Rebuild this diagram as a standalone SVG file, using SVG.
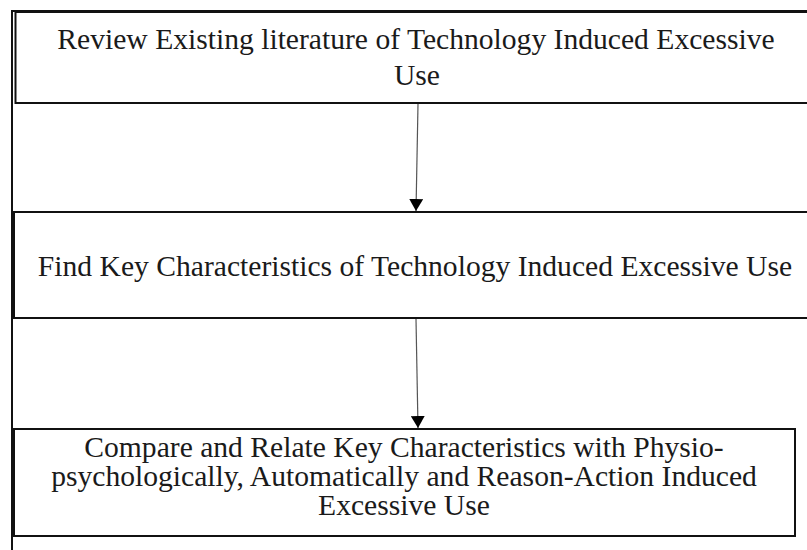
<svg xmlns="http://www.w3.org/2000/svg" width="807" height="550" viewBox="0 0 807 550">
  <style>
    .box { fill: #ffffff; stroke: #111111; stroke-width: 2; }
    .frame { fill: none; stroke: #111111; stroke-width: 2; }
    .label { font-family: "Liberation Serif", "Times New Roman", serif; font-size: 29.6px; fill: #1a1a1a; text-anchor: middle; }
    .link { stroke: #555555; stroke-width: 1.2; fill: none; }
  </style>
  <defs>
    <marker id="arrowhead" viewBox="0 0 12 14" refX="12" refY="7" markerWidth="12" markerHeight="14" markerUnits="userSpaceOnUse" orient="auto">
      <path d="M0,0 L12,7 L0,14 Z" fill="#000000"/>
    </marker>
  </defs>
  <rect width="807" height="550" fill="#ffffff"/>

  <!-- outer frame: left and top edges -->
  <path class="frame" d="M12,550 V11 H807"/>

  <g id="step-review">
    <rect class="box" x="15.5" y="12" width="810" height="91"/>
    <text class="label" x="416" y="49">Review Existing literature of Technology Induced Excessive</text>
    <text class="label" x="417" y="85">Use</text>
  </g>

  <g id="step-characteristics">
    <rect class="box" x="14" y="212" width="810" height="106"/>
    <text class="label" x="415" y="276">Find Key Characteristics of Technology Induced Excessive Use</text>
  </g>

  <g id="step-compare">
    <rect class="box" x="14" y="429" width="781" height="107"/>
    <text class="label" x="404" y="457">Compare and Relate Key Characteristics with Physio-</text>
    <text class="label" x="404" y="486">psychologically, Automatically and Reason-Action Induced</text>
    <text class="label" x="404" y="515">Excessive Use</text>
  </g>

  <g id="connectors">
    <line class="link" x1="418" y1="104" x2="416" y2="211" marker-end="url(#arrowhead)"/>
    <line class="link" x1="416" y1="319" x2="418" y2="428" marker-end="url(#arrowhead)"/>
  </g>
</svg>
